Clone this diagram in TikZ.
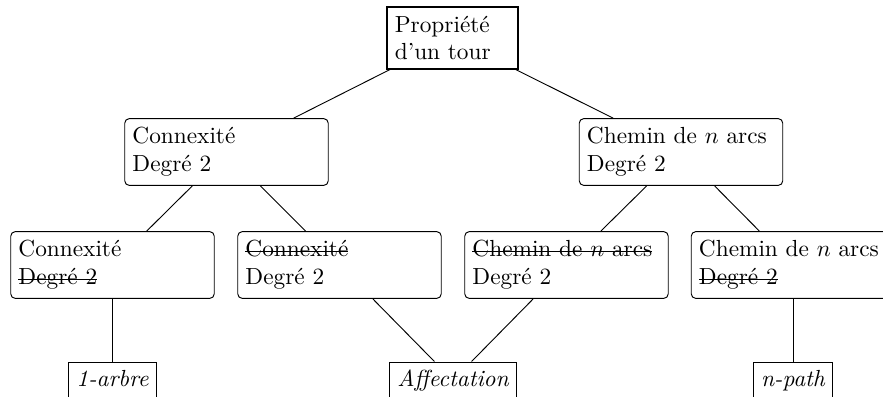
\documentclass[tikz,border=0pt]{standalone}
\usepackage{fontspec}
\newcommand{\strk}[1]{\leavevmode\setbox0\hbox{#1}\rlap{\rule[0.5ex]{\wd0}{0.45pt}}\box0}
\begin{document}
\begin{tikzpicture}[x=0.4292pt,y=-0.4292pt,
  rbox/.style={draw, rounded corners=2pt, text width=80.7pt, align=left, minimum height=28.7pt, inner sep=3.333pt},
  rootbox/.style={draw, line width=0.55pt, text width=49.5pt, align=left, minimum height=26.6pt, inner sep=3.333pt},
  leaf/.style={draw, line width=0.55pt, font=\itshape, text height=7pt, text depth=2pt, anchor=north, inner sep=3.333pt},
  edge/.style={line width=0.4pt}]
\useasboundingbox (0,0) rectangle (883,396);
\clip (0,0) rectangle (883,396);
\node[rootbox] (root) at (452.5,38) {Propriété\\d'un tour};
\node[rbox] (lm) at (226.5,152) {Connexité\\Degré 2};
\node[rbox] (rm) at (681,152) {Chemin de $n$ arcs\\Degré 2};
\node[rbox] (b1) at (112.5,265) {Connexité\\\strk{Degré 2}};
\node[rbox] (b2) at (339.5,265) {\strk{Connexité}\\Degré 2};
\node[rbox] (b3) at (566.5,265) {\strk{Chemin de $n$ arcs}\\Degré 2};
\node[rbox] (b4) at (793,265) {Chemin de $n$ arcs\\\strk{Degré 2}};
\node[leaf] (l1) at (112.5,361.5) {1-arbre};
\node[leaf] (l2) at (453,361.5) {Affectation};
\node[leaf] (l3) at (793,361.5) {n-path};
\draw[edge] (root) -- (lm);
\draw[edge] (root) -- (rm);
\draw[edge] (lm) -- (b1);
\draw[edge] (lm) -- (b2);
\draw[edge] (rm) -- (b3);
\draw[edge] (rm) -- (b4);
\draw[edge] (b1) -- (l1);
\draw[edge] (b2) -- (l2);
\draw[edge] (b3) -- (l2);
\draw[edge] (b4) -- (l3);
\end{tikzpicture}
\end{document}
